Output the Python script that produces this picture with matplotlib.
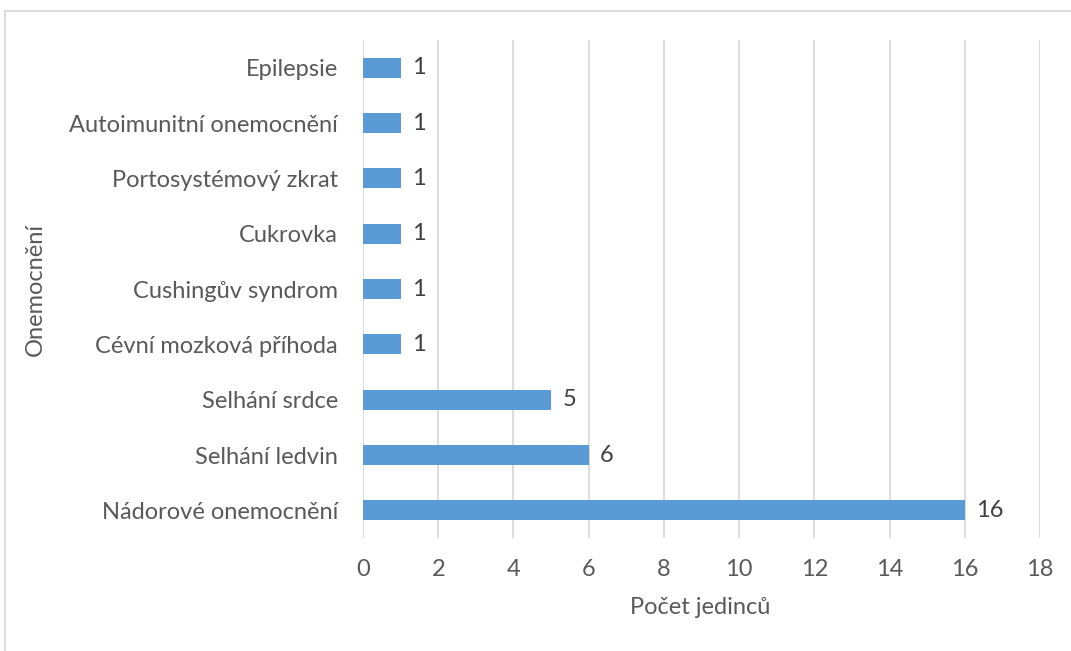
import matplotlib.pyplot as plt
from matplotlib.patches import Rectangle

categories = ["Nádorové onemocnění", "Selhání ledvin", "Selhání srdce",
              "Cévní mozková příhoda", "Cushingův syndrom", "Cukrovka",
              "Portosystémový zkrat", "Autoimunitní onemocnění", "Epilepsie"]
counts = [16, 6, 5, 1, 1, 1, 1, 1, 1]
xticks = [0, 2, 4, 6, 8, 10, 12, 14, 16, 18]

W, H = 1071, 651
plt.rcParams['font.family'] = ['Lato', 'DejaVu Sans']
txt = '#595959'
fs = 17

fig = plt.figure(figsize=(W / 100, H / 100), dpi=100)
ax = fig.add_axes([363 / W, 1 - 538 / H, (1040 - 363) / W, (538 - 40) / H])

ypos = range(len(categories))
ax.barh(ypos, counts, height=0.36, color='#5B9BD5', zorder=2)
for y, v in zip(ypos, counts):
    ax.text(v + 0.3, y, str(v), va='center', ha='left', fontsize=fs, color='#404040')

ax.set_xlim(0, 18)
ax.set_ylim(-0.5, len(categories) - 0.5)
ax.set_xticks(xticks)
ax.set_yticks(list(ypos))
ax.set_yticklabels(categories)
ax.tick_params(axis='both', length=0, labelsize=fs, colors=txt)
ax.tick_params(axis='x', pad=15)
ax.tick_params(axis='y', pad=18)
ax.grid(axis='x', color='#D9D9D9', linewidth=1.3, zorder=0)
for s in ax.spines.values():
    s.set_visible(False)

ax.set_xlabel("Počet jedinců", fontsize=fs, color=txt)
ax.set_ylabel("Onemocnění", fontsize=fs, color=txt)
ax.xaxis.set_label_coords(0.5 + (700 - 701.5) / 677, (538 - 607) / 498)
ax.yaxis.set_label_coords((35 - 363) / 677, (538 - 290) / 498)
ax.xaxis.label.set_va('center')
ax.yaxis.label.set_va('center')

# chart frame (partially cropped in the reference)
fig.patches.append(Rectangle((5 / W, -0.1), 1.2, 1 - 11 / H + 0.1,
                             transform=fig.transFigure, fill=False,
                             edgecolor='#D9D9D9', linewidth=1.3))

fig.savefig("out.png", dpi=100)
